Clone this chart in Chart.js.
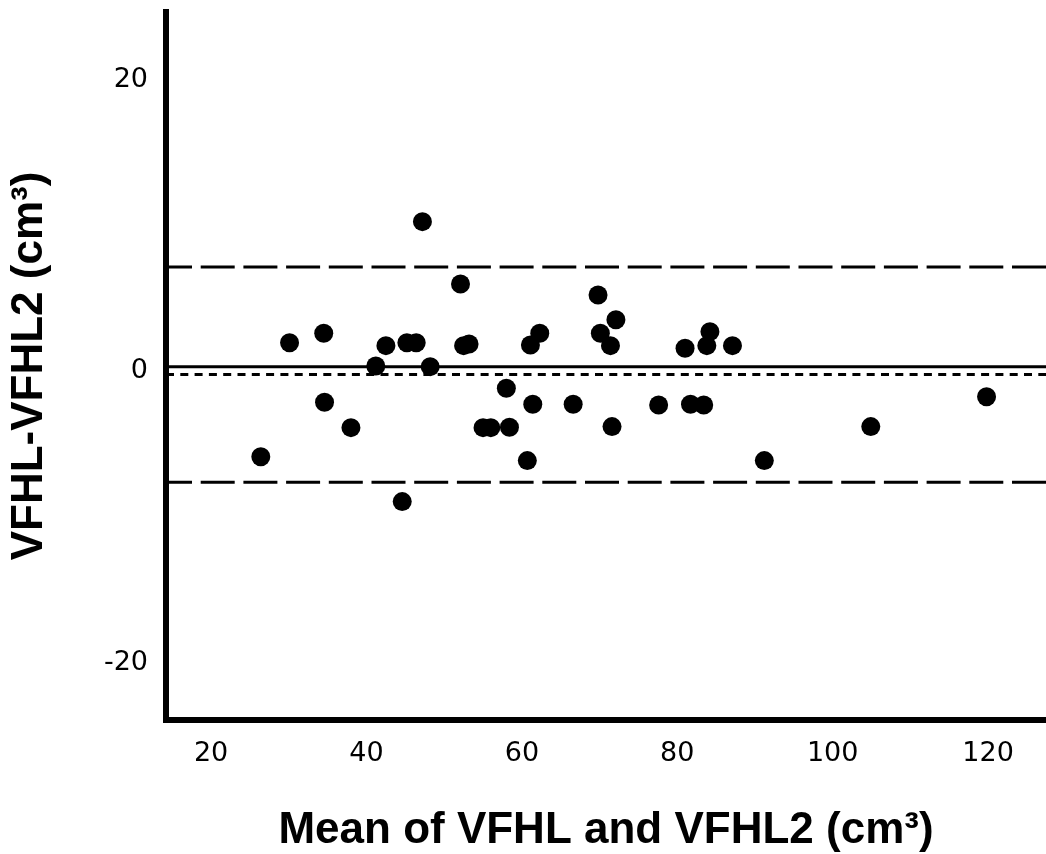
<!DOCTYPE html>
<html>
<head>
<meta charset="utf-8">
<title>VFHL vs VFHL2 - Bland-Altman</title>
<script src="https://cdn.jsdelivr.net/npm/chart.js@4.4.0/dist/chart.umd.min.js"></script>
<style>
    html, body { margin: 0; padding: 0; background: #ffffff; }
    #chart { display: block; }
</style>
</head>
<body>
<canvas id="chart" width="1046" height="854"></canvas>
<script>
// Mean of VFHL and VFHL2 (x) and the difference VFHL-VFHL2 (y)
const meanValues = [26.4, 30.1, 34.5, 34.6, 38.0, 41.2, 42.5, 45.2, 46.4, 47.2,
                    44.6, 48.2, 52.1, 52.5, 53.2, 55.0, 56.0, 58.0, 58.4, 61.1,
                    62.3, 60.7, 61.4, 66.6, 69.8, 72.1, 70.1, 71.4, 71.6, 77.6,
                    81.0, 81.7, 83.4, 84.2, 83.8, 87.1, 91.2, 104.9, 119.8];
const diffValues = [-5.84, 1.97, 2.62, -2.11, -3.85, 0.38, 1.77, 1.97, 1.97, 10.27,
                    -8.92, 0.33, 6.00, 1.77, 1.88, -3.85, -3.85, -1.15, -3.82, 1.82,
                    2.62, -6.11, -2.25, -2.25, 5.24, 3.55, 2.62, 1.77, -3.78, -2.30,
                    1.59, -2.25, -2.30, 2.73, 1.77, 1.77, -6.11, -3.78, -1.73];

// Horizontal reference lines
const solidLine = [0.33];
const dottedLine = [-0.2];
const limitLines = [7.16, -7.6];

const xTicks = [20, 40, 60, 80, 100, 120];
const yTicks = [-20, 0, 20];

const X_MIN = 14.2, X_MAX = 127.45;
const Y_MIN = -23.89, Y_MAX = 24.64;

const tickFont = { family: 'DejaVu Sans, Liberation Sans, sans-serif', size: 27 };
const titleFont = { family: 'Liberation Sans, Arial, sans-serif', size: 44, weight: 'bold', lineHeight: 1 };

function hLine(y, dash, dashOffset) {
    return {
        type: 'line',
        data: [{ x: X_MIN, y: y }, { x: X_MAX, y: y }],
        borderColor: '#000',
        borderWidth: 3,
        borderDash: dash,
        borderDashOffset: dashOffset || 0,
        pointRadius: 0,
        pointHoverRadius: 0,
        fill: false,
        order: 1
    };
}

const datasets = [{
    type: 'scatter',
    data: meanValues.map((m, i) => ({ x: m, y: diffValues[i] })),
    backgroundColor: '#000',
    borderWidth: 0,
    pointRadius: 9.5,
    pointHoverRadius: 9.5,
    order: 0
}];
solidLine.forEach(v => datasets.push(hLine(v, [])));
dottedLine.forEach(v => datasets.push(hLine(v, [8, 6.3])));
limitLines.forEach(v => datasets.push(hLine(v, [34, 8.7], 8)));

new Chart(document.getElementById('chart'), {
    type: 'scatter',
    data: { datasets: datasets },
    options: {
        responsive: false,
        animation: false,
        events: [],
        layout: { autoPadding: false, padding: { top: 12, right: 0, bottom: 0, left: 0 } },
        plugins: {
            legend: { display: false },
            tooltip: { enabled: false }
        },
        scales: {
            x: {
                type: 'linear',
                min: X_MIN,
                max: X_MAX,
                afterBuildTicks: axis => { axis.ticks = xTicks.map(v => ({ value: v })); },
                afterFit: axis => {
                    axis.height = 134;
                    axis.paddingLeft = 0;
                    axis.paddingRight = 0;
                },
                grid: { display: false, drawTicks: false },
                border: { display: true, color: '#000', width: 6 },
                ticks: {
                    color: '#000',
                    padding: 18,
                    maxRotation: 0,
                    autoSkip: false,
                    font: tickFont
                },
                title: {
                    display: true,
                    text: 'Mean of VFHL and VFHL2 (cm³)',
                    color: '#000',
                    padding: { top: 0, bottom: 1 },
                    font: titleFont
                }
            },
            y: {
                type: 'linear',
                min: Y_MIN,
                max: Y_MAX,
                afterBuildTicks: axis => { axis.ticks = yTicks.map(v => ({ value: v })); },
                afterFit: axis => {
                    axis.width = 166;
                    axis.paddingTop = 0;
                    axis.paddingBottom = 0;
                },
                grid: { display: false, drawTicks: false },
                border: { display: true, color: '#000', width: 6 },
                ticks: {
                    color: '#000',
                    padding: 18,
                    font: tickFont
                },
                title: {
                    display: true,
                    text: 'VFHL-VFHL2 (cm³)',
                    color: '#000',
                    padding: { top: 8, bottom: 0 },
                    font: titleFont
                }
            }
        }
    }
});
</script>
</body>
</html>
